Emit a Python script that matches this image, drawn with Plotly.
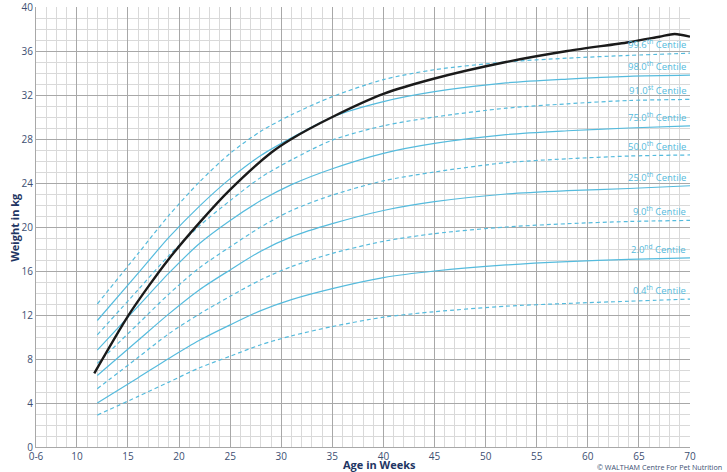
import plotly.graph_objects as go

# ---- data ----
weeks = [12, 16, 19, 22, 25, 28, 31, 35, 40, 45, 52, 58, 64, 70]

c99_6 = [13.0, 17.6, 21.05, 24.1, 26.7, 28.7, 30.2, 31.85, 33.4, 34.3, 35.0, 35.35, 35.6, 35.8]
c98_0 = [11.5, 15.8, 19.05, 21.9, 24.4, 26.5, 28.1, 30.0, 31.4, 32.3, 33.1, 33.45, 33.7, 33.8]
c91_0 = [10.2, 14.3, 17.4, 20.1, 22.4, 24.5, 26.1, 27.9, 29.2, 30.0, 30.8, 31.2, 31.5, 31.6]
c75_0 = [8.8, 12.8, 15.8, 18.5, 20.6, 22.4, 23.85, 25.3, 26.7, 27.6, 28.4, 28.75, 29.0, 29.2]
c50_0 = [7.6, 11.2, 13.9, 16.3, 18.2, 20.0, 21.5, 22.9, 24.2, 25.0, 25.85, 26.2, 26.45, 26.55]
c25_0 = [6.5, 9.7, 12.1, 14.3, 16.1, 17.8, 19.1, 20.3, 21.5, 22.3, 23.0, 23.3, 23.5, 23.75]
c9_0 = [5.3, 8.15, 10.3, 12.1, 13.7, 15.2, 16.4, 17.6, 18.7, 19.4, 20.0, 20.3, 20.5, 20.6]
c2_0 = [4.0, 6.3, 8.05, 9.7, 11.1, 12.4, 13.4, 14.4, 15.4, 16.0, 16.55, 16.85, 17.05, 17.2]
c0_4 = [2.9, 4.6, 5.9, 7.2, 8.25, 9.3, 10.1, 10.95, 11.8, 12.3, 12.8, 13.05, 13.25, 13.45]

centile_labels = ["99.6<sup>th</sup> Centile", "98.0<sup>th</sup> Centile",
                  "91.0<sup>st</sup> Centile", "75.0<sup>th</sup> Centile",
                  "50.0<sup>th</sup> Centile", "25.0<sup>th</sup> Centile",
                  "9.0<sup>th</sup> Centile", "2.0<sup>nd</sup> Centile",
                  "0.4<sup>th</sup> Centile"]
centile_series = [c99_6, c98_0, c91_0, c75_0, c50_0, c25_0, c9_0, c2_0, c0_4]
centile_dashed = [True, False, True, False, True, False, True, False, True]

pup_weeks = [11.7, 15, 17, 19, 22, 25, 29, 31, 35, 40, 45, 52, 58, 64, 67, 68.5, 70]
pup_kg = [6.7, 11.9, 14.6, 17.1, 20.4, 23.4, 26.75, 28.0, 30.0, 32.1, 33.5, 35.0,
          36.0, 36.8, 37.3, 37.55, 37.3]

x_tickvals = [6, 10, 15, 20, 25, 30, 35, 40, 45, 50, 55, 60, 65, 70]
x_ticktext = ["0-6", "10", "15", "20", "25", "30", "35", "40", "45", "50", "55", "60", "65", "70"]
y_tickvals = [0, 4, 8, 12, 16, 20, 24, 28, 32, 36, 40]

# ---- styling ----
BLUE = "#55bbdd"
TEXT = "#3d4f72"
TITLE = "#1e3563"
FONT = "Open Sans"

fig = go.Figure()
for vals, dashed, lab in zip(centile_series, centile_dashed, centile_labels):
    fig.add_trace(go.Scatter(
        x=weeks, y=vals, mode="lines", name=lab, showlegend=False,
        line=dict(color=BLUE, width=1.2, dash="4px,3px" if dashed else "solid",
                  shape="spline", smoothing=0.8),
        hoverinfo="skip"))
    fig.add_annotation(x=weeks[-1], y=vals[-1], xref="x", yref="y",
                       text=lab, showarrow=False, xanchor="right", yanchor="bottom",
                       xshift=-2, yshift=0,
                       font=dict(family=FONT, size=9.5, color=BLUE))

fig.add_trace(go.Scatter(
    x=pup_weeks, y=pup_kg, mode="lines", showlegend=False,
    line=dict(color="#1a1a1a", width=2.4, shape="spline", smoothing=0.8)))

fig.update_xaxes(
    range=[6, 70], tickmode="array", tickvals=x_tickvals, ticktext=x_ticktext,
    showgrid=True, gridcolor="#a8a8a8", gridwidth=1,
    minor=dict(tickmode="linear", tick0=0, dtick=1, showgrid=True, gridcolor="#d9d9d9", gridwidth=1),
    showline=True, linecolor="#a8a8a8", linewidth=1, zeroline=False,
    ticks="", ticklen=1, tickfont=dict(family=FONT, size=10, color=TEXT), automargin=False,
    ticklabeloverflow="allow")
fig.update_yaxes(
    range=[0, 40], tickmode="array", tickvals=y_tickvals,
    showgrid=True, gridcolor="#a8a8a8", gridwidth=1,
    minor=dict(tickmode="linear", tick0=0, dtick=1, showgrid=True, gridcolor="#d9d9d9", gridwidth=1),
    showline=True, linecolor="#a8a8a8", linewidth=1, zeroline=False,
    ticks="", tickfont=dict(family=FONT, size=10, color=TEXT), automargin=False,
    ticklabeloverflow="allow")

fig.add_annotation(text="<b>Weight in kg</b>", xref="paper", yref="paper", x=-0.034, y=0.5,
                   textangle=-90, showarrow=False, xanchor="center", yanchor="middle",
                   font=dict(family=FONT, size=11, color=TITLE))
fig.add_annotation(text="<b>Age in Weeks</b>", xref="paper", yref="paper", x=0.525, y=0,
                   yshift=-17, showarrow=False, xanchor="center", yanchor="middle",
                   font=dict(family=FONT, size=11, color=TITLE))
fig.add_annotation(text="© WALTHAM Centre For Pet Nutrition", xref="paper", yref="paper",
                   x=1, y=0, xshift=34, yshift=-19.5, showarrow=False, xanchor="right",
                   yanchor="middle", font=dict(family=FONT, size=7.2, color=TEXT))

fig.update_layout(
    width=727, height=472,
    margin=dict(l=36, r=37, t=7, b=25),
    paper_bgcolor="white", plot_bgcolor="white",
)

fig.write_html("out.html", config={"displayModeBar": False},
               post_script="document.body.style.margin='0px';document.body.style.overflow='hidden';")
